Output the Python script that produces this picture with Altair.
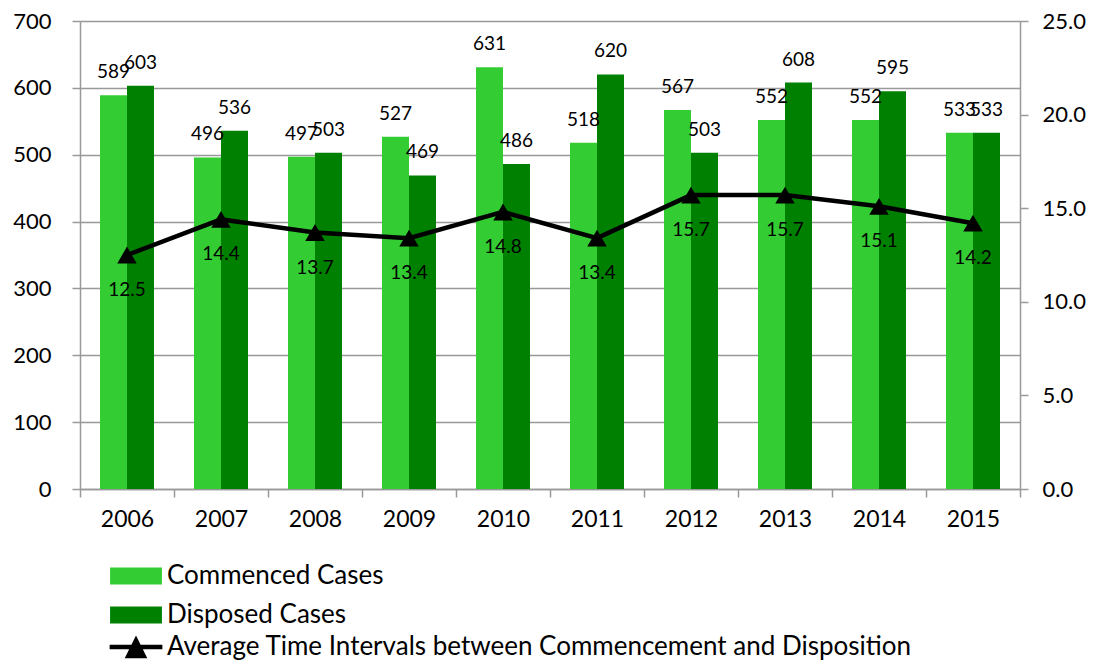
import altair as alt
import pandas as pd

years = ["2006", "2007", "2008", "2009", "2010", "2011", "2012", "2013", "2014", "2015"]
commenced = [589, 496, 497, 527, 631, 518, 567, 552, 552, 533]
disposed = [603, 536, 503, 469, 486, 620, 503, 608, 595, 533]
avg_interval = [12.5, 14.4, 13.7, 13.4, 14.8, 13.4, 15.7, 15.7, 15.1, 14.2]

bar_series = ["Commenced Cases", "Disposed Cases"]
bar_colors = ["#33CC33", "#008000"]
line_name = "Average Time Intervals between Commencement and Disposition"
left_ticks = [0, 100, 200, 300, 400, 500, 600, 700]
right_ticks = [0, 5, 10, 15, 20, 25]

rows = []
for i, yr in enumerate(years):
    rows.append({"year": yr, "series": bar_series[0], "value": commenced[i]})
    rows.append({"year": yr, "series": bar_series[1], "value": disposed[i]})
bars_df = pd.DataFrame(rows)
line_df = pd.DataFrame({"year": years, "avg": avg_interval, "series": [line_name] * len(years)})

FONT = "Lato"
GRAY = "#999999"

x_enc = alt.X(
    "year:N", sort=years,
    scale=alt.Scale(paddingInner=0, paddingOuter=0),
    axis=alt.Axis(title=None, labelAngle=0, tickBand="extent", labelFontSize=23,
                  labelFont=FONT, labelColor="black", labelPadding=11, tickSize=8,
                  domainColor=GRAY, tickColor=GRAY, domainWidth=1.5, tickWidth=1.5),
)
x_off = alt.XOffset("series:N", sort=bar_series,
                    scale=alt.Scale(paddingOuter=0.74, paddingInner=0))
y_left = alt.Y(
    "value:Q", scale=alt.Scale(domain=[0, 700]),
    axis=alt.Axis(title=None, values=left_ticks, labelFontSize=22, labelFont=FONT,
                  labelColor="black", labelPadding=21, tickSize=8, grid=True,
                  gridColor=GRAY, gridWidth=1.5, domainColor=GRAY, tickColor=GRAY,
                  domainWidth=1.5, tickWidth=1.5),
)

bar_path = "M-3.05,-1H3.05V1H-3.05Z"
line_path = "M-3.1,0H3.1M0,-0.75L0.9,1.05L-0.9,1.05Z"

bars = alt.Chart(bars_df).mark_bar().encode(
    x=x_enc, xOffset=x_off, y=y_left,
    color=alt.Color("series:N", sort=bar_series,
                    scale=alt.Scale(domain=bar_series, range=bar_colors),
                    legend=alt.Legend(title=None, orient="none", legendX=43, legendY=542,
                                      symbolType=bar_path, symbolSize=289,
                                      symbolStrokeWidth=0, labelFontSize=26,
                                      labelFont=FONT, labelColor="black",
                                      labelOffset=18, rowPadding=13, labelLimit=1000)),
)
bar_text = alt.Chart(bars_df).mark_text(
    font=FONT, fontSize=19, color="black", baseline="middle", dy=-23
).encode(x=x_enc, xOffset=x_off, y=alt.Y("value:Q"), text=alt.Text("value:Q"))

left = alt.layer(bars, bar_text)

y_right = alt.Y(
    "avg:Q", scale=alt.Scale(domain=[0, 25]),
    axis=alt.Axis(title=None, orient="right", values=right_ticks, format=".1f",
                  labelFontSize=22, labelFont=FONT, labelColor="black", labelPadding=14,
                  tickSize=8, grid=False, domainColor=GRAY, tickColor=GRAY,
                  domainWidth=1.5, tickWidth=1.5),
)
line = alt.Chart(line_df).mark_line(color="black", strokeWidth=4.5).encode(x=x_enc, y=y_right)
pts = alt.Chart(line_df).mark_point(shape="triangle-up", filled=True, size=380,
                                    opacity=1, color="black").encode(
    x=x_enc, y=y_right,
    fill=alt.Fill("series:N", scale=alt.Scale(domain=[line_name], range=["black"]),
                  legend=alt.Legend(title=None, orient="none", legendX=43, legendY=613,
                                    symbolType=line_path, symbolSize=289,
                                    symbolStrokeColor="black", symbolFillColor="black",
                                    symbolStrokeWidth=4.5, labelFontSize=26,
                                    labelFont=FONT, labelColor="black", labelOffset=18,
                                    labelLimit=1000)),
)
line_text = alt.Chart(line_df).mark_text(
    font=FONT, fontSize=19, color="black", baseline="middle", dy=35
).encode(x=x_enc, y=y_right, text=alt.Text("avg:Q", format=".1f"))

right = alt.layer(line, pts, line_text)

chart = alt.layer(left, right).resolve_scale(y="independent").properties(
    width=940, height=468,
    autosize=alt.AutoSizeParams(type="none"),
    padding={"left": 72, "top": 13, "right": 66, "bottom": 171},
).configure_view(stroke=None)

chart.save("out.html", embed_options={"renderer": "svg", "actions": False})
